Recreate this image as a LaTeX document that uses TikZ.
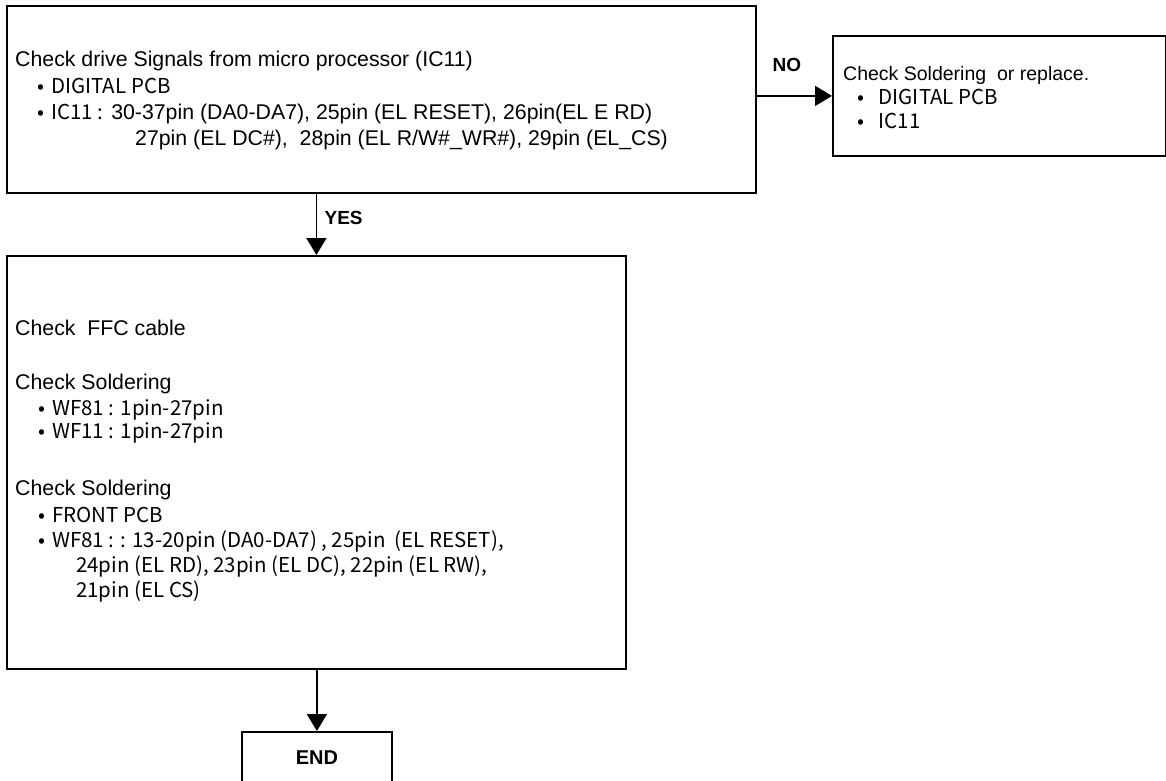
\documentclass[tikz,border=0pt]{standalone}
\usepackage{fontspec}
\setmainfont{Liberation Sans}
\newfontfamily\jpfont{Noto Sans CJK JP}
\newcommand{\bul}[1][2.5pt]{•\hspace{#1} }
\usetikzlibrary{arrows.meta, calc, positioning}

\begin{document}
\begin{tikzpicture}[x=1pt, y=-1pt,
  box/.style={draw, line width=1.8pt, anchor=north west, inner sep=0pt},
  arr/.style={line width=1.8pt, -{Triangle[width=20pt,length=17pt]}},
  ln/.style={anchor=base west, inner sep=0pt, font=\fontsize{21.3}{25}\selectfont},
  lns/.style={anchor=base west, inner sep=0pt, font=\fontsize{19.5}{23}\selectfont},
  bl/.style={anchor=base west, inner sep=0pt, font=\jpfont\fontsize{20.5}{24}\selectfont},
  lbl/.style={font=\bfseries\fontsize{19}{23}\selectfont}]
\useasboundingbox (0,0) rectangle (1166,780);

\node[box, minimum width=749pt, minimum height=187pt] (drive) at (6,5) {};
\node[box, minimum width=333pt, minimum height=120pt] (repl) at (832,35) {};
\node[box, minimum width=619pt, minimum height=413pt] (fix) at (6,255) {};
\node[box, minimum width=150pt, minimum height=52pt, font=\bfseries\fontsize{20}{24}\selectfont] (end) at (241,731) {END};

% drive signals
\node[ln] (d1) at (15,66) {Check drive Signals from micro processor (IC11)};
\node[bl] (d2) at (37,93) {\bul DIGITAL PCB};
\node[ln] (d3) at (37,119) {{\jpfont\fontsize{20.5}{24}\selectfont \bul IC11 :} 30-37pin (DA0-DA7), 25pin (EL RESET), 26pin(EL E RD)};
\node[ln] (d4) at (135,145) {27pin (EL DC\#),\ \ 28pin (EL R/W\#\_WR\#), 29pin (EL\_CS)};

% replace
\node[lns] (r1) at (843,80) {Check Soldering\ \ or replace.};
\node[bl] (r2) at (857,104) {\bul[10pt]DIGITAL PCB};
\node[bl] (r3) at (857,128) {\bul[10pt]IC11};

% cable and soldering
\node[ln] (f1) at (15,335) {Check\ \ FFC cable};
\node[ln] (f2) at (15,389) {Check Soldering};
\node[bl] (f3) at (38,415) {\bul WF81 : 1pin-27pin};
\node[bl] (f4) at (38,438) {\bul WF11 : 1pin-27pin};
\node[ln] (f5) at (15,495) {Check Soldering};
\node[bl] (f6) at (38,522) {\bul FRONT PCB};
\node[bl] (f7) at (38,547) {\bul WF81 : : 13-20pin (DA0-DA7) , 25pin\ \ (EL RESET),};
\node[bl] (f8) at (76,572) {24pin (EL RD), 23pin (EL DC), 22pin (EL RW),};
\node[bl] (f9) at (76,597) {21pin (EL CS)};

\draw[arr] (fix.north |- drive.south) -- (fix.north) node[lbl, pos=0.4, right=4pt] {YES};
\draw[arr] (drive.east |- repl.west) -- (repl.west) node[lbl, pos=0.4, above=20pt] {NO};
\draw[arr] (end.north |- fix.south) -- (end.north);
\end{tikzpicture}
\end{document}
